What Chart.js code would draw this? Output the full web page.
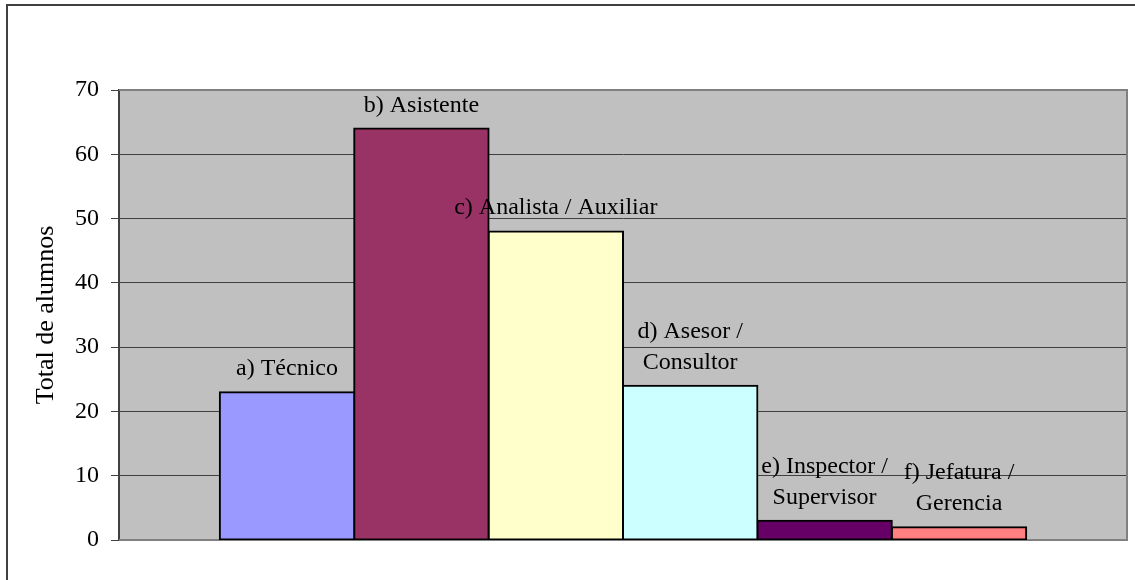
<!DOCTYPE HTML>
<html lang="es">
<head>
<meta charset="UTF-8">
<title>Total de alumnos</title>
<script src="https://cdn.jsdelivr.net/npm/chart.js@4/dist/chart.umd.min.js"></script>
<style>
  body { margin: 0; background: #fff; }
  #wrap { width: 1135px; height: 580px; }
</style>
</head>
<body>
<div id="wrap">
  <canvas id="canvas"></canvas>
</div>

<script>
// datos
var categorias = [
  ['a) Técnico'],
  ['b) Asistente'],
  ['c) Analista / Auxiliar'],
  ['d) Asesor /', 'Consultor'],
  ['e) Inspector /', 'Supervisor'],
  ['f) Jefatura /', 'Gerencia']
];
var valores = [23, 64, 48, 24, 3, 2];
var colores = ['#9999FF', '#993366', '#FFFFCC', '#CCFFFF', '#660066', '#FF8080'];
var tituloY = 'Total de alumnos';

var fuente = 'Liberation Serif, Times New Roman, serif';

// una serie por categoría (como en Excel)
var datasets = categorias.map(function(c, i) {
  return {
    label: c.join(' '),
    data: [valores[i]],
    backgroundColor: colores[i],
    borderColor: '#000000',
    borderWidth: 2,
    borderSkipped: false,
    inflateAmount: 1,
    categoryPercentage: 0.8,
    barPercentage: 1.0
  };
});

// fondo gris del área de trazado + borde exterior
var fondo = {
  id: 'fondo',
  beforeDraw: function(chart) {
    var ctx = chart.ctx, a = chart.chartArea;
    ctx.save();
    ctx.fillStyle = '#C0C0C0';
    ctx.fillRect(a.left, a.top, a.right - a.left, a.bottom - a.top);
    // borde del gráfico
    ctx.strokeStyle = '#404040';
    ctx.lineWidth = 2;
    ctx.beginPath();
    ctx.moveTo(7, 580);
    ctx.lineTo(7, 5);
    ctx.lineTo(1135, 5);
    ctx.stroke();
    ctx.restore();
  },
  beforeDatasetsDraw: function(chart) {
    var ctx = chart.ctx, a = chart.chartArea;
    ctx.save();
    ctx.strokeStyle = '#808080';
    ctx.lineWidth = 2;
    ctx.beginPath();
    ctx.moveTo(a.left, a.top);
    ctx.lineTo(a.right, a.top);
    ctx.lineTo(a.right, a.bottom);
    ctx.lineTo(a.left, a.bottom);
    ctx.stroke();
    ctx.restore();
  }
};

// etiquetas encima de cada barra
var etiquetas = {
  id: 'etiquetas',
  afterDatasetsDraw: function(chart) {
    var ctx = chart.ctx;
    ctx.save();
    ctx.font = '24px ' + fuente;
    ctx.fillStyle = '#000000';
    ctx.textAlign = 'center';
    ctx.textBaseline = 'alphabetic';
    chart.data.datasets.forEach(function(ds, i) {
      var bar = chart.getDatasetMeta(i).data[0];
      var lineas = categorias[i];
      var base = bar.y - 17;
      for (var k = lineas.length - 1; k >= 0; k--) {
        ctx.fillText(lineas[k], bar.x, base);
        base -= 31;
      }
    });
    ctx.restore();
  }
};

window.onload = function() {
  var ctx = document.getElementById('canvas').getContext('2d');
  window.myChart = new Chart(ctx, {
    type: 'bar',
    data: { labels: [''], datasets: datasets },
    plugins: [fondo, etiquetas],
    options: {
      responsive: true,
      maintainAspectRatio: false,
      animation: false,
      layout: { padding: { left: 0, top: 90, right: 8, bottom: 40 } },
      plugins: {
        legend: { display: false },
        tooltip: { enabled: false }
      },
      scales: {
        x: { display: false },
        y: {
          min: 0,
          max: 70,
          ticks: {
            stepSize: 10,
            color: '#000000',
            padding: 12,
            font: { family: fuente, size: 24 }
          },
          grid: {
            color: '#404040',
            lineWidth: 1,
            tickLength: 8,
            tickColor: '#404040'
          },
          border: { color: '#404040', width: 2 },
          title: {
            display: true,
            text: tituloY,
            color: '#000000',
            padding: { top: 31, bottom: 0 },
            font: { family: fuente, size: 26 }
          },
          afterFit: function(scale) { scale.width = 119; }
        }
      }
    }
  });
};
</script>
</body>
</html>
